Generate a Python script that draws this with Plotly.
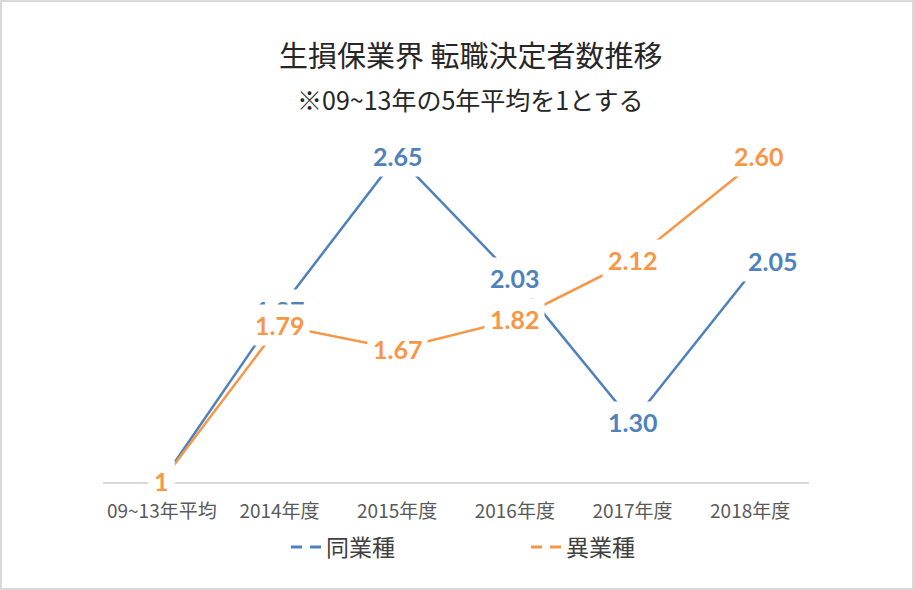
"""Line chart: 生損保業界 転職決定者数推移."""

import plotly.graph_objects as go

categories = ["09~13年平均", "2014年度", "2015年度", "2016年度", "2017年度", "2018年度"]
same_industry = [1, 1.87, 2.65, 2.03, 1.30, 2.05]
other_industry = [1, 1.79, 1.67, 1.82, 2.12, 2.60]
series_names = ["同業種", "異業種"]

BLUE = "#4F81BD"
ORANGE = "#F79646"
W, H = 914, 590
L, R, T, B = 103, 105, 100, 108
PLOT_W = W - L - R
PLOT_H = H - T - B
PX_PER_UNIT = 197
Y_MIN = 0.995


def px_x(px):
    return (px - L) / PLOT_W


def px_y(py):
    return (H - B - py) / PLOT_H


def fmt(v):
    return "1" if v == 1 else f"{v:.2f}"


fig = go.Figure()
for name, values, color in [
    (series_names[0], same_industry, BLUE),
    (series_names[1], other_industry, ORANGE),
]:
    fig.add_trace(
        go.Scatter(
            x=categories,
            y=values,
            mode="lines",
            line=dict(color=color, width=2.5),
            showlegend=False,
            hoverinfo="skip",
        )
    )
    # legend entry drawn dashed like the original
    fig.add_trace(
        go.Scatter(
            x=[None],
            y=[None],
            mode="lines",
            name=name,
            line=dict(color=color, width=3, dash="11px,8px"),
        )
    )

# data labels with white boxes; orange on top of blue
label_shift = {
    BLUE: {5: (22, 13)},
    ORANGE: {5: (8, 10)},
}
for values, color in [(same_industry, BLUE), (other_industry, ORANGE)]:
    for i, (cat, v) in enumerate(zip(categories, values)):
        dx, dy = label_shift[color].get(i, (0, 0))
        fig.add_annotation(
            x=cat,
            y=v,
            xref="x",
            yref="y",
            text=f"<b>{fmt(v)}</b>",
            showarrow=False,
            bgcolor="white",
            borderpad=5,
            xshift=dx,
            yshift=dy,
            font=dict(family="Lato, Open Sans, sans-serif", size=25, color=color),
        )

fig.add_annotation(
    x=px_x(471), y=px_y(54), xref="paper", yref="paper",
    xanchor="center", yanchor="middle",
    text="生損保業界 転職決定者数推移", showarrow=False,
    font=dict(family="Noto Sans CJK JP", size=29, color="#262626"),
)
fig.add_annotation(
    x=px_x(470), y=px_y(99), xref="paper", yref="paper",
    xanchor="center", yanchor="middle",
    text="※09~13年の5年平均を1とする", showarrow=False,
    font=dict(family="Noto Sans CJK JP", size=25, color="#262626"),
)

# chart border
fig.add_shape(
    type="rect", xref="paper", yref="paper",
    x0=px_x(1), x1=px_x(W - 1), y0=px_y(H - 1), y1=px_y(1),
    line=dict(color="#D9D9D9", width=2),
)

fig.update_layout(
    width=W,
    height=H,
    margin=dict(l=L, r=R, t=T, b=B),
    paper_bgcolor="white",
    plot_bgcolor="white",
    hovermode=False,
    legend=dict(
        orientation="h",
        x=px_x(286),
        y=px_y(547),
        xanchor="left",
        yanchor="middle",
        entrywidth=195,
        font=dict(family="Noto Sans CJK JP", size=23, color="#404040"),
    ),
)
fig.update_xaxes(
    type="category",
    range=[-0.5, 5.5],
    showline=True,
    linecolor="#D9D9D9",
    linewidth=1.5,
    showgrid=False,
    zeroline=False,
    ticks="",
    ticklabelstandoff=11,
    tickfont=dict(family="Noto Sans CJK JP", size=19, color="#595959"),
)
fig.update_yaxes(
    visible=False,
    range=[Y_MIN, Y_MIN + PLOT_H / PX_PER_UNIT],
)

fig.write_html(
    "out.html",
    config={"displayModeBar": False},
    post_script="document.body.style.margin='0';",
)
